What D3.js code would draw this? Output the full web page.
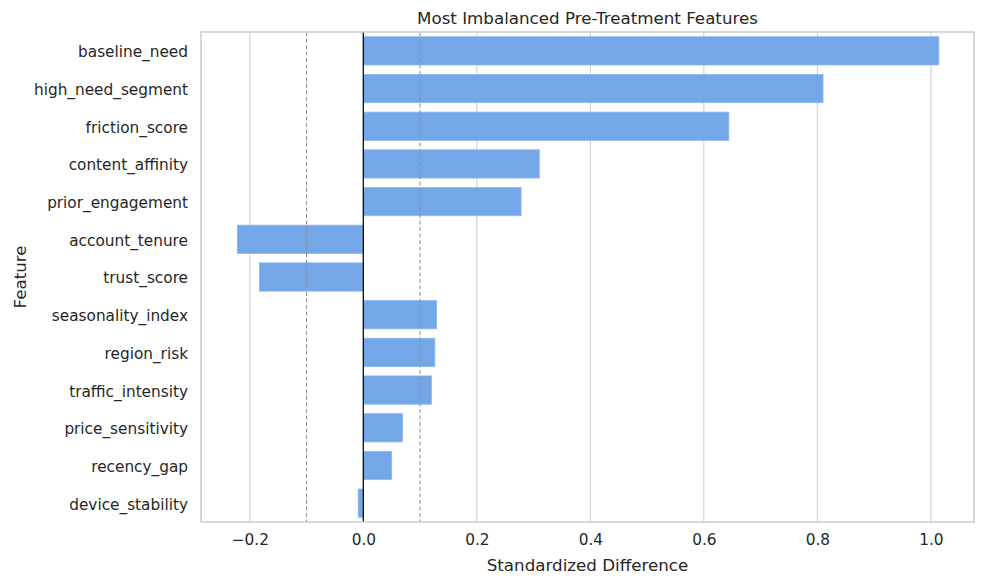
<!DOCTYPE html>
<html lang="en">
<head>
	<meta charset="UTF-8">
	<title>imbalanced features</title>
	<script src="https://d3js.org/d3.v7.min.js"></script>
	<style type="text/css">
		body { margin: 0; background: #fff; }
		text { font-family: "DejaVu Sans", sans-serif; fill: #262626; }
	</style>
</head>
<body>
<script type="text/javascript">

	// data
	var features = ['baseline_need', 'high_need_segment', 'friction_score', 'content_affinity',
		'prior_engagement', 'account_tenure', 'trust_score', 'seasonality_index', 'region_risk',
		'traffic_intensity', 'price_sensitivity', 'recency_gap', 'device_stability'];
	var stdDiff = [1.014, 0.810, 0.644, 0.310, 0.278, -0.222, -0.183, 0.129, 0.126, 0.120, 0.069, 0.050, -0.009];
	var xTicks = [-0.2, 0.0, 0.2, 0.4, 0.6, 0.8, 1.0];
	var thresholds = [-0.1, 0.1];

	var W = 984, H = 584;
	var margin = {top: 32, left: 201, bottom: 62, right: 10};
	var width = W - margin.left - margin.right;
	var height = H - margin.top - margin.bottom;

	var svg = d3.select('body').append('svg')
		.attr('width', W)
		.attr('height', H)
		.append('g')
		.attr('transform', 'translate(' + margin.left + ',' + margin.top + ')');

	var data = features.map(function (f, i) { return {name: f, value: stdDiff[i]}; });

	//scaling
	var x = d3.scaleLinear()
		.range([0, width])
		.domain([-0.286, 1.076]);

	var y = d3.scaleBand()
		.range([0, height])
		.domain(features)
		.paddingInner(0.25)
		.paddingOuter(0.125);

	// grid
	svg.selectAll('.grid')
		.data(xTicks)
		.enter().append('line')
		.attr('class', 'grid')
		.attr('x1', function (d) { return x(d); })
		.attr('x2', function (d) { return x(d); })
		.attr('y1', 0)
		.attr('y2', height)
		.style('stroke', '#cccccc')
		.style('stroke-width', 1);

	// bars
	svg.selectAll('.bar')
		.data(data)
		.enter().append('rect')
		.attr('class', 'bar')
		.attr('x', function (d) { return x(Math.min(0, d.value)); })
		.attr('width', function (d) { return Math.abs(x(d.value) - x(0)); })
		.attr('y', function (d) { return y(d.name); })
		.attr('height', y.bandwidth())
		.style('fill', '#74a7e8')
		.style('stroke', '#8bb7ee')
		.style('stroke-width', 0.8);

	// threshold lines
	svg.selectAll('.thr')
		.data(thresholds)
		.enter().append('line')
		.attr('class', 'thr')
		.attr('x1', function (d) { return x(d); })
		.attr('x2', function (d) { return x(d); })
		.attr('y1', 0)
		.attr('y2', height)
		.style('stroke', '#8c8ca3')
		.style('stroke-width', 1)
		.style('stroke-dasharray', '4,2.5');

	// zero line
	svg.append('line')
		.attr('x1', x(0)).attr('x2', x(0))
		.attr('y1', 0).attr('y2', height)
		.style('stroke', '#000')
		.style('stroke-width', 1.2);

	// frame
	svg.append('rect')
		.attr('width', width)
		.attr('height', height)
		.style('fill', 'none')
		.style('stroke', '#cccccc')
		.style('stroke-width', 1.5);

	//draw axis
	var xAxis = svg.append('g')
		.attr('transform', 'translate(0,' + height + ')')
		.call(d3.axisBottom(x).tickValues(xTicks).tickFormat(d3.format('.1f')).tickSize(0).tickPadding(12));
	xAxis.select('.domain').remove();
	xAxis.selectAll('text').style('font-size', '15.3px').style('fill', '#262626');

	var yAxis = svg.append('g')
		.call(d3.axisLeft(y).tickSize(0).tickPadding(13));
	yAxis.select('.domain').remove();
	yAxis.selectAll('text').attr('dy', '0.42em').style('font-size', '15.3px').style('fill', '#262626');

	//labelling
	svg.append('text')
		.attr('x', width / 2)
		.attr('y', height + 49)
		.style('text-anchor', 'middle')
		.style('font-size', '16.7px')
		.text('Standardized Difference');

	svg.append('text')
		.attr('transform', 'rotate(-90)')
		.attr('y', -175)
		.attr('x', -height / 2)
		.style('text-anchor', 'middle')
		.style('font-size', '16.7px')
		.text('Feature');

	svg.append('text')
		.attr('x', width / 2)
		.attr('y', -8)
		.style('text-anchor', 'middle')
		.style('font-size', '16.7px')
		.text('Most Imbalanced Pre-Treatment Features');

</script>
</body>
</html>
